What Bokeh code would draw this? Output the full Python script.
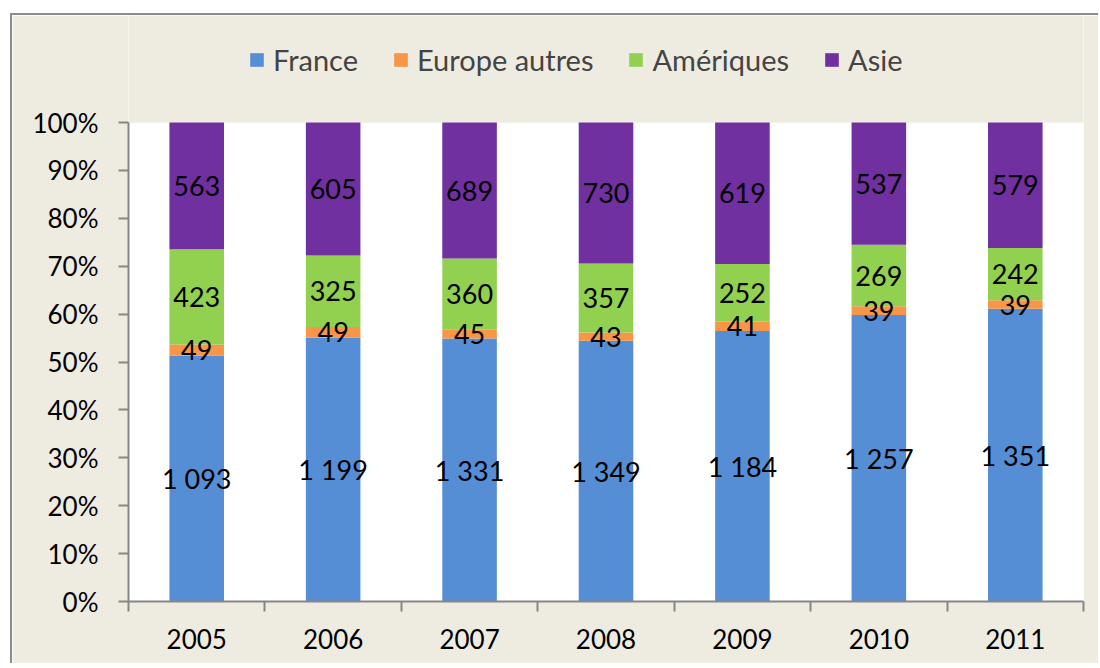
from bokeh.plotting import figure
from bokeh.models import ColumnDataSource, FixedTicker, NumeralTickFormatter, Legend, LegendItem, BoxAnnotation
from bokeh.core.properties import value
from bokeh.embed import file_html
from bokeh.resources import INLINE

years = ["2005", "2006", "2007", "2008", "2009", "2010", "2011"]
series = ["France", "Europe autres", "Amériques", "Asie"]
france = [1093, 1199, 1331, 1349, 1184, 1257, 1351]
europe = [49, 49, 45, 43, 41, 39, 39]
ameriques = [423, 325, 360, 357, 252, 269, 242]
asie = [563, 605, 689, 730, 619, 537, 579]
colors = ["#558ED5", "#F79646", "#92D050", "#7030A0"]

values = [france, europe, ameriques, asie]
n = len(years)
xs = [i + 0.5 for i in range(n)]
totals = [sum(v[i] for v in values) for i in range(n)]
shares = [[v[i] / totals[i] for i in range(n)] for v in values]

data = {"x": xs}
for s, sh in zip(series, shares):
    data[s] = sh
src = ColumnDataSource(data)

FONT = "Lato"
AX = "#868686"
BG = "#EEECE1"

# frame spans from the top of the chart area; 100% sits 107px below its top
YMAX = 586 / 479

p = figure(width=1088, height=650, x_range=(0, n), y_range=(0, YMAX),
           output_backend="svg", toolbar_location=None,
           min_border_left=116, min_border_right=17,
           min_border_top=0, min_border_bottom=64)
p.margin = (13, 0, 0, 10)
p.styles = {"border-top": "2px solid #8C8C8C", "border-left": "2px solid #8C8C8C"}
p.background_fill_color = "white"
p.border_fill_color = BG
p.outline_line_color = None
p.xgrid.visible = False
p.ygrid.visible = False

p.add_layout(BoxAnnotation(bottom=1, fill_color=BG, fill_alpha=1, line_color=BG,
                           line_width=2, level="underlay"))

rs = p.vbar_stack(series, x="x", width=0.4, color=colors, source=src, line_width=0)

# data labels
lx, ly, lt = [], [], []
base = [0.0] * n
for v, sh in zip(values, shares):
    for i in range(n):
        lx.append(xs[i])
        ly.append(base[i] + sh[i] / 2)
        lt.append(f"{v[i]:,}".replace(",", " "))
        base[i] += sh[i]
lsrc = ColumnDataSource(dict(x=lx, y=ly, t=lt))
p.text(x="x", y="y", text="t", source=lsrc, text_align="center", text_baseline="middle",
       text_font=value(FONT), text_font_size="27px", text_color="black")

# x axis
p.xaxis.ticker = FixedTicker(ticks=xs, minor_ticks=list(range(n + 1)))
p.xaxis.major_label_overrides = {x: y for x, y in zip(xs, years)}
p.xaxis.major_tick_out = 0
p.xaxis.major_tick_in = 0
p.xaxis.minor_tick_out = 10
p.xaxis.minor_tick_in = 0
p.xaxis.minor_tick_line_color = AX
p.xaxis.minor_tick_line_width = 2
p.xaxis.axis_line_color = AX
p.xaxis.axis_line_width = 2
p.xaxis.major_label_text_font = FONT
p.xaxis.major_label_text_font_size = "26px"
p.xaxis.major_label_text_color = "black"
p.xaxis.major_label_standoff = 17

# y axis
p.yaxis.bounds = (0, 1)
p.yaxis.ticker = FixedTicker(ticks=[i / 10 for i in range(11)])
p.yaxis.formatter = NumeralTickFormatter(format="0%")
p.yaxis.major_tick_out = 10
p.yaxis.major_tick_in = 0
p.yaxis.minor_tick_line_color = None
p.yaxis.major_tick_line_color = AX
p.yaxis.major_tick_line_width = 2
p.yaxis.axis_line_color = AX
p.yaxis.axis_line_width = 2
p.yaxis.major_label_text_font = FONT
p.yaxis.major_label_text_font_size = "26px"
p.yaxis.major_label_text_color = "black"
p.yaxis.major_label_standoff = 20

items = [LegendItem(label=s, renderers=[r]) for s, r in zip(series, rs)]
legend = Legend(items=items, orientation="horizontal", location=(120, 524),
                background_fill_alpha=0, border_line_color=None,
                label_text_font=FONT, label_text_font_size="29px",
                glyph_width=17, glyph_height=17, label_standoff=8, spacing=34,
                padding=0, margin=0)
p.add_layout(legend, "center")

open("out.html", "w").write(file_html(p, INLINE))
